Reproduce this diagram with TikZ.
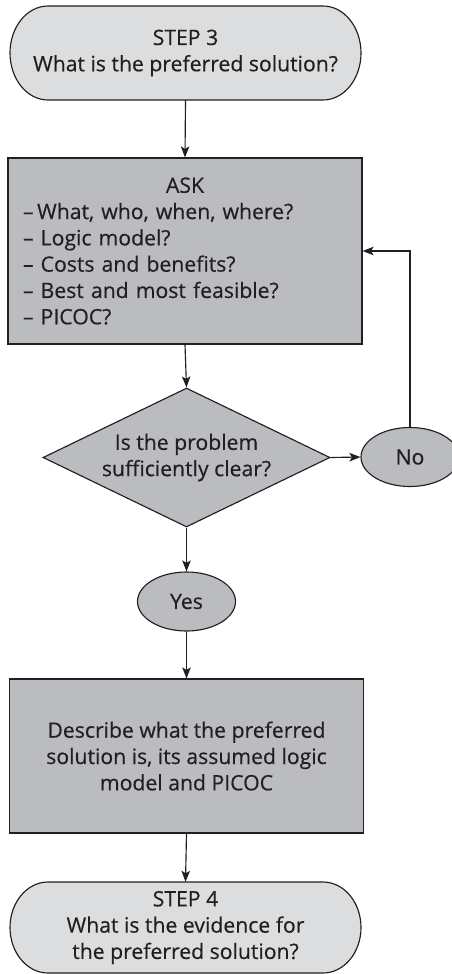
\documentclass[tikz,border=0pt]{standalone}
\usepackage{fontspec}
\setmainfont{Open Sans}
\newfontfamily\boxfont[UprightFeatures={FakeBold=0.45}]{Open Sans}
\usetikzlibrary{arrows.meta,shapes.geometric}
\definecolor{ink}{HTML}{231F20}
\definecolor{lightfill}{HTML}{DCDDDF}
\definecolor{midfill}{HTML}{BBBCBF}
\begin{document}
\begin{tikzpicture}[x=1pt,y=-1pt,
  txt/.style={font=\boxfont\fontsize{21.2}{26.3}\selectfont, text=ink, align=center, inner sep=0pt},
  arr/.style={draw=ink, line width=1.15pt, -{Stealth[length=11pt,width=8.5pt,inset=2.5pt]}},
  edge/.style={draw=ink, line width=1.15pt},
  box/.style={txt, rectangle, edge, fill=midfill},
  oval/.style={txt, ellipse, edge, fill=midfill, minimum width=98pt, minimum height=59pt},
  decision/.style={txt, diamond, edge, fill=midfill, aspect=2.06, minimum width=287pt, minimum height=139pt},
  termshape/.style={edge, fill=lightfill}
]
\useasboundingbox (0,0) rectangle (451,974);

% terminal outlines
\path[termshape] (48,6) -- (323,6) arc[start angle=90,end angle=-90,x radius=38pt,y radius=47pt]
  -- (48,100) arc[start angle=270,end angle=90,x radius=38pt,y radius=47pt] -- cycle;
\path[termshape] (48,882) -- (323,882) arc[start angle=90,end angle=-90,x radius=38pt,y radius=45.5pt]
  -- (48,973) arc[start angle=270,end angle=90,x radius=38pt,y radius=45.5pt] -- cycle;

\node[txt, minimum width=351pt, minimum height=94pt] (s3) at (185.5,53) {STEP 3\\What is the preferred solution?};

\node[box, minimum width=354pt, minimum height=186pt, text width=324pt, align=left] (ask) at (185,251)
  {\hfill ASK\hfill\null\\–\,What, who, when, where?\\– Logic model?\\– Costs and benefits?\\– Best and most feasible?\\– PICOC?};

\node[decision] (dia) at (186.5,457.5) {Is the problem\\sufficiently clear?};
\node[oval] (no) at (410,457) {No};
\node[oval] (yes) at (186.5,601.5) {Yes};

\node[box, minimum width=354pt, minimum height=154pt] (desc) at (186.5,756)
  {Describe what the preferred\\solution is, its assumed logic\\model and PICOC};

\node[txt, minimum width=351pt, minimum height=91pt] (s4) at (185.5,927.5) {STEP 4\\What is the evidence for\\the preferred solution?};

\draw[arr] (s3.south) -- (ask.north);
\draw[arr] (ask.south) -- (dia.north);
\draw[arr] (dia.east) -- (no.west);
\draw[arr] (no.north) |- (ask.east);
\draw[arr] (dia.south) -- (yes.north);
\draw[arr] (yes.south) -- (desc.north);
\draw[arr] (desc.south) -- (s4.north);
\end{tikzpicture}
\end{document}
